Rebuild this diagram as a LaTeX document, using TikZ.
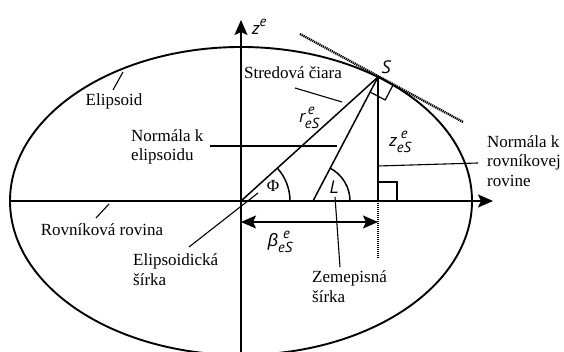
\documentclass[tikz,border=0pt]{standalone}
\usepackage{fontspec}
\setmainfont{Liberation Serif}
\newfontfamily\itsf{PT Sans}
\newfontfamily\grsf{Liberation Sans}
\usetikzlibrary{arrows.meta}
\newcommand\scr[1]{{\fontsize{14.5}{15}\selectfont #1}}
\newcommand\subsup[4]{#1\makebox[0pt][l]{\hspace{#4}\raisebox{8.5pt}{\scr{#3}}}\raisebox{-6pt}{\scr{#2}}}
\begin{document}
\begin{tikzpicture}[x=1pt,y=1pt,
  lbl/.style={font=\fontsize{17}{19.5}\selectfont, inner sep=0pt, align=left},
  mlbl/.style={font=\fontsize{18}{19.5}\selectfont\itsf\itshape, inner sep=0pt},
  axisline/.style={line width=1.9pt},
  geo/.style={line width=1.5pt},
  ptr/.style={line width=1.1pt},
  rmark/.style={line width=1.2pt},
  dotl/.style={line width=2.4pt, dash pattern=on 1.2pt off 0.8pt},
  tip/.style={-{Stealth[length=15pt,width=13pt,inset=3pt]}},
  dtip/.style={{Stealth[length=15pt,width=13pt,inset=3pt]}-{Stealth[length=15pt,width=13pt,inset=3pt]}}]
\useasboundingbox (0,0) rectangle (564,352);
% key points
\coordinate (O) at (241,151);
\coordinate (S) at (378,275);
\coordinate (F) at (313,151);
\coordinate (V) at (378,151);
\coordinate (Vb) at (378,94);
\coordinate (zb) at (241,0);
\coordinate (zt) at (241,332);
\coordinate (xl) at (10,151);
\coordinate (xr) at (493,151);
\coordinate (T1) at (300,318);
\coordinate (T2) at (463,230);
\coordinate (B1) at (241,130);
\coordinate (B2) at (378,130);
% ellipse
\begin{scope}
  \clip (0,0) rectangle (564,352);
  \draw[axisline] (O) ellipse [x radius=231pt, y radius=154pt];
\end{scope}
% axes
\draw[axisline, tip] (zb) -- (zt);
\draw[axisline, tip] (xl) -- (xr);
% tangent
\draw[dotl] (T1) -- (T2);
\draw[dotl] (V) -- (Vb);
% geometry lines
\draw[geo] (O) -- (S);
\draw[geo] (F) -- (S);
\draw[geo] (V) -- (S);
% right angle marks
\draw[rmark] (370.1,259.9) -- (385.2,252.0) -- (393.1,267.1);
\draw[rmark] (378,170) -- (397,170) -- (397,151);
% angle arcs
\draw[geo] (290,151) arc[start angle=0, end angle=42.2, radius=49pt];
\draw[geo] (350,151) arc[start angle=0, end angle=62.4, radius=37pt];
% double arrow
\draw[line width=1.6pt, dtip] (B1) -- (B2);
% math labels
\node[mlbl] (ze) at (260,322) {\subsup{z}{}{e}{0pt}\phantom{e}};
\node[mlbl] (Sl) at (386,285) {S};
\node[font=\fontsize{17}{17}\selectfont, inner sep=0pt] (Phi) at (273,166) {Φ};
\node[mlbl] (Ll) at (334,165) {L};
\node[mlbl] (rl) at (309,234) {\subsup{r}{eS}{e}{3pt}};
\node[mlbl] (zl) at (400,210) {\subsup{z}{eS}{e}{4pt}};
\node[mlbl] (bl) at (280,110) {\subsup{{\grsf\itshape β}}{eS}{e}{5pt}};
% text labels
\node[lbl] (elip) at (114,251) {Elipsoid};
\node[lbl] (stred) at (293,279) {Stredová čiara};
\node[lbl, anchor=west] (nel) at (131,205) {Normála k\\elipsoidu};
\node[lbl] (rovn) at (102,122) {Rovníková rovina};
\node[lbl, anchor=west] (esir) at (133,82.5) {Elipsoidická\\šírka};
\node[lbl, anchor=west] (zsir) at (312,65.5) {Zemepisná\\šírka};
\node[lbl, anchor=west] (nrov) at (487,191) {Normála k\\rovníkovej\\rovine};
% pointer lines
\coordinate (p1a) at (113,262); \coordinate (p1b) at (123,280);
\coordinate (p2a) at (295,264); \coordinate (p2b) at (342,250);
\coordinate (p3a) at (210,206); \coordinate (p3b) at (337,206);
\coordinate (p4a) at (96,134);  \coordinate (p4b) at (109,148);
\coordinate (p5a) at (189,105); \coordinate (p5b) at (258,159);
\coordinate (p6a) at (340,85);  \coordinate (p6b) at (335,155);
\coordinate (p7a) at (378,186); \coordinate (p7b) at (478,189);
\draw[ptr] (p1a) -- (p1b);
\draw[ptr] (p2a) -- (p2b);
\draw[ptr] (p3a) -- (p3b);
\draw[ptr] (p4a) -- (p4b);
\draw[ptr] (p5a) -- (p5b);
\draw[ptr] (p6a) -- (p6b);
\draw[ptr] (p7a) -- (p7b);
\end{tikzpicture}
\end{document}
